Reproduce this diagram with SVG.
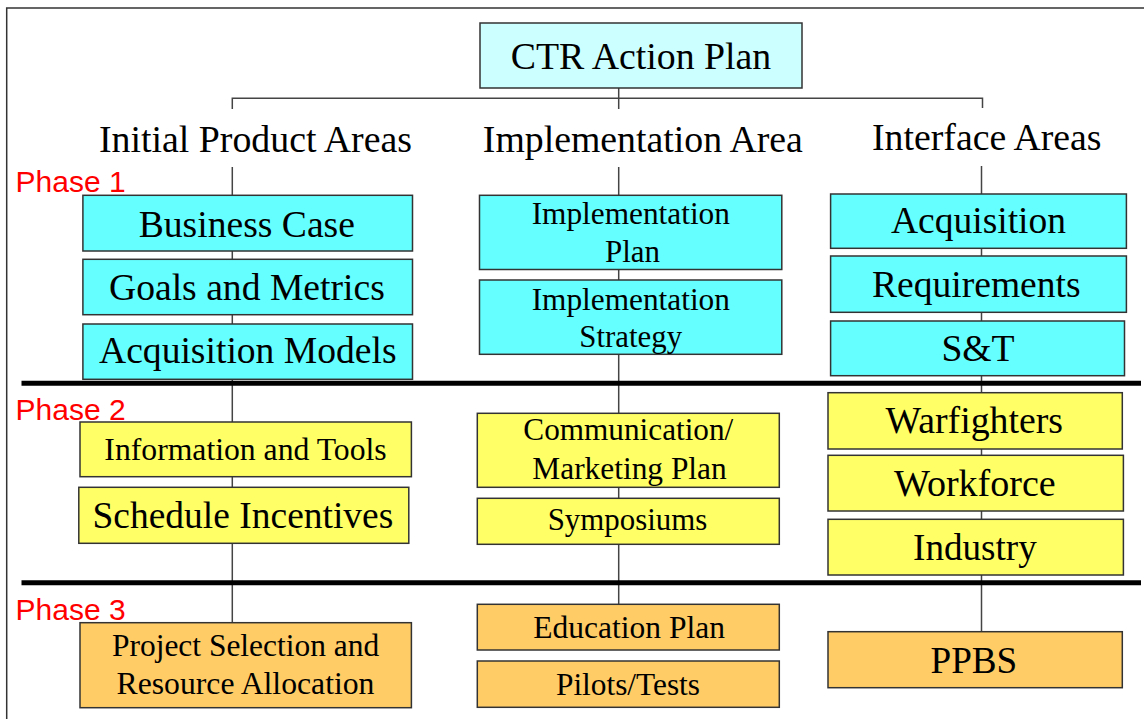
<svg xmlns="http://www.w3.org/2000/svg" width="1144" height="719" viewBox="0 0 1144 719">
<style>
.box{stroke:#333;stroke-width:1.5}
.c1{fill:#66FFFF}
.c0{fill:#CCFFFF}
.y{fill:#FFFF66}
.o{fill:#FFCC66}
.t{fill:#000;text-anchor:middle;font-family:"Liberation Serif",serif}
.L{font-size:37px}
.M{font-size:31px}
.ph{font-size:30px;fill:#FF0000;font-family:"Liberation Sans",sans-serif}
.conn{stroke:#444;stroke-width:1.5;fill:none}
.sep{stroke:#000;stroke-width:5}
</style>
<rect x="0" y="0" width="1144" height="719" fill="#FFFFFF"/>
<path d="M6.7,719 V8 H1144" fill="none" stroke="#333" stroke-width="1.5"/>

<g id="connectors">
<path class="conn" d="M618.7,88 V109 M232.3,109 V98.3 H982.5 V108"/>
<path class="conn" d="M232.3,167 V622.7"/>
<path class="conn" d="M618.7,167 V604.3"/>
<path class="conn" d="M981.5,166 V631.7"/>
</g>

<g id="separators">
<line class="sep" x1="21.5" y1="383.3" x2="1141" y2="383.3"/>
<line class="sep" x1="21.5" y1="582.7" x2="1141" y2="582.7"/>
</g>

<g id="phase-labels">
<text class="ph" x="15.5" y="191.7" font-family="Liberation Sans">Phase 1</text>
<text class="ph" x="15.5" y="420" font-family="Liberation Sans">Phase 2</text>
<text class="ph" x="15.5" y="620" font-family="Liberation Sans">Phase 3</text>
</g>

<g id="ctr-action-plan">
<rect class="box c0" x="480" y="23" width="322" height="65"/>
<text class="t" x="641" y="68.5" font-size="38" font-family="Liberation Serif" textLength="260.5" lengthAdjust="spacingAndGlyphs">CTR Action Plan</text>
</g>

<g id="hdr-initial">
<text class="t L" x="255.5" y="152" font-family="Liberation Serif" textLength="313" lengthAdjust="spacingAndGlyphs">Initial Product Areas</text>
</g>
<g id="hdr-implementation">
<text class="t L" x="642.8" y="152" font-family="Liberation Serif" textLength="320" lengthAdjust="spacingAndGlyphs">Implementation Area</text>
</g>
<g id="hdr-interface">
<text class="t L" x="986.8" y="150" font-family="Liberation Serif" textLength="229.5" lengthAdjust="spacingAndGlyphs">Interface Areas</text>
</g>

<g id="business-case">
<rect class="box c1" x="82.9" y="195.3" width="329.6" height="55.7"/>
<text class="t L" x="246.8" y="236.7" font-family="Liberation Serif" textLength="216.3" lengthAdjust="spacingAndGlyphs">Business Case</text>
</g>
<g id="goals-metrics">
<rect class="box c1" x="82.9" y="259.3" width="329.6" height="55.4"/>
<text class="t L" x="246.9" y="300" font-family="Liberation Serif" textLength="275.8" lengthAdjust="spacingAndGlyphs">Goals and Metrics</text>
</g>
<g id="acquisition-models">
<rect class="box c1" x="82.9" y="324" width="329.6" height="55.3"/>
<text class="t L" x="247.8" y="363.3" font-family="Liberation Serif" textLength="297.6" lengthAdjust="spacingAndGlyphs">Acquisition Models</text>
</g>

<g id="implementation-plan">
<rect class="box c1" x="479.5" y="195.3" width="302.3" height="74.2"/>
<text class="t M" x="630.8" y="224.3" font-family="Liberation Serif" textLength="198.3" lengthAdjust="spacingAndGlyphs">Implementation</text>
<text class="t M" x="632.5" y="261.7" font-family="Liberation Serif" textLength="55" lengthAdjust="spacingAndGlyphs">Plan</text>
</g>
<g id="implementation-strategy">
<rect class="box c1" x="479.5" y="280" width="302.3" height="74.3"/>
<text class="t M" x="630.8" y="310" font-family="Liberation Serif" textLength="198.3" lengthAdjust="spacingAndGlyphs">Implementation</text>
<text class="t M" x="630.7" y="346.7" font-family="Liberation Serif" textLength="102.7" lengthAdjust="spacingAndGlyphs">Strategy</text>
</g>

<g id="acquisition">
<rect class="box c1" x="830.6" y="194" width="295.8" height="54.3"/>
<text class="t L" x="978.5" y="233.3" font-family="Liberation Serif" textLength="175" lengthAdjust="spacingAndGlyphs">Acquisition</text>
</g>
<g id="requirements">
<rect class="box c1" x="830.6" y="256" width="295.8" height="56.3"/>
<text class="t L" x="976.3" y="296.7" font-family="Liberation Serif" textLength="208.6" lengthAdjust="spacingAndGlyphs">Requirements</text>
</g>
<g id="s-and-t">
<rect class="box c1" x="830.6" y="321" width="293.9" height="54.7"/>
<text class="t L" x="978" y="361" font-family="Liberation Serif" textLength="73.2" lengthAdjust="spacingAndGlyphs">S&amp;T</text>
</g>

<g id="information-tools">
<rect class="box y" x="80" y="422" width="331.4" height="54.7"/>
<text class="t M" x="245.5" y="460" font-family="Liberation Serif" textLength="282.3" lengthAdjust="spacingAndGlyphs">Information and Tools</text>
</g>
<g id="schedule-incentives">
<rect class="box y" x="78.8" y="487.3" width="330" height="56"/>
<text class="t L" x="242.9" y="528.3" font-family="Liberation Serif" textLength="300.8" lengthAdjust="spacingAndGlyphs">Schedule Incentives</text>
</g>

<g id="communication-marketing">
<rect class="box y" x="477.3" y="413.3" width="302" height="74"/>
<text class="t M" x="628.3" y="440" font-family="Liberation Serif" textLength="210" lengthAdjust="spacingAndGlyphs">Communication/</text>
<text class="t M" x="629.5" y="479" font-family="Liberation Serif" textLength="194.4" lengthAdjust="spacingAndGlyphs">Marketing Plan</text>
</g>
<g id="symposiums">
<rect class="box y" x="477.3" y="498.3" width="302" height="46"/>
<text class="t M" x="627.5" y="530" font-family="Liberation Serif" textLength="159.6" lengthAdjust="spacingAndGlyphs">Symposiums</text>
</g>

<g id="warfighters">
<rect class="box y" x="828" y="392.7" width="294.3" height="56.3"/>
<text class="t L" x="974.3" y="433.3" font-family="Liberation Serif" textLength="177.5" lengthAdjust="spacingAndGlyphs">Warfighters</text>
</g>
<g id="workforce">
<rect class="box y" x="828" y="455.3" width="295.4" height="55.7"/>
<text class="t L" x="974.9" y="496" font-family="Liberation Serif" textLength="161.7" lengthAdjust="spacingAndGlyphs">Workforce</text>
</g>
<g id="industry">
<rect class="box y" x="828" y="519.3" width="295.4" height="55.7"/>
<text class="t L" x="974.9" y="560" font-family="Liberation Serif" textLength="123.7" lengthAdjust="spacingAndGlyphs">Industry</text>
</g>

<g id="project-selection">
<rect class="box o" x="80" y="622.7" width="331.4" height="85"/>
<text class="t M" x="245.6" y="656" font-family="Liberation Serif" textLength="267.2" lengthAdjust="spacingAndGlyphs">Project Selection and</text>
<text class="t M" x="245.5" y="694.3" font-family="Liberation Serif" textLength="257.9" lengthAdjust="spacingAndGlyphs">Resource Allocation</text>
</g>

<g id="education-plan">
<rect class="box o" x="477.3" y="604.3" width="302" height="45.7"/>
<text class="t M" x="629.2" y="637.7" font-family="Liberation Serif" textLength="191.7" lengthAdjust="spacingAndGlyphs">Education Plan</text>
</g>
<g id="pilots-tests">
<rect class="box o" x="477.3" y="661" width="302" height="46.3"/>
<text class="t M" x="628" y="695" font-family="Liberation Serif" textLength="144" lengthAdjust="spacingAndGlyphs">Pilots/Tests</text>
</g>

<g id="ppbs">
<rect class="box o" x="828" y="631.7" width="294.3" height="56"/>
<text class="t L" x="973.9" y="672.7" font-family="Liberation Serif" textLength="86.8" lengthAdjust="spacingAndGlyphs">PPBS</text>
</g>
</svg>
